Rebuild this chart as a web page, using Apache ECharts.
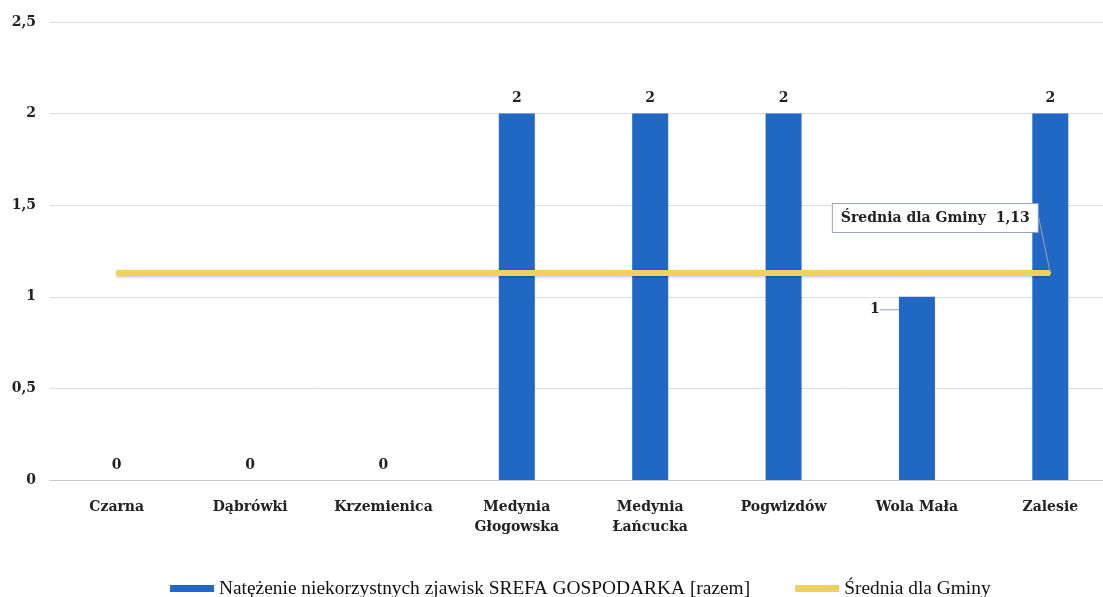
<!DOCTYPE html>
<html><head><meta charset="utf-8">
<script src="https://cdn.jsdelivr.net/npm/echarts@6/dist/echarts.min.js"></script>
<style>html,body{margin:0;padding:0;background:#fff}#c{width:1103px;height:597px}</style>
</head><body><div id="c"></div>
<script>
const categories = ['Czarna','Dąbrówki','Krzemienica','Medynia\nGłogowska','Medynia\nŁańcucka','Pogwizdów','Wola Mała','Zalesie'];
const barValues = [0,0,0,2,2,2,1,2];
const avgValues = [1.13,1.13,1.13,1.13,1.13,1.13,1.13,1.13];
const yTicks = [0,0.5,1,1.5,2,2.5];
const barName = 'Natężenie niekorzystnych zjawisk SREFA GOSPODARKA [razem]';
const avgName = 'Średnia dla Gminy';
const avgLabel = 'Średnia dla Gminy  1,13';

const serif = 'DejaVu Serif';
const yellow = '#f0d060';
const chart = echarts.init(document.getElementById('c'));
chart.setOption({
  animation:false,
  grid:{left:50, top:22, width:1067, bottom:117, outerBoundsMode:'none', containLabel:false},
  legend:{
    top:574, left:165, itemGap:45, itemWidth:44, itemHeight:7,
    textStyle:{fontFamily:'Liberation Serif', fontSize:19.4, color:'#111'},
    data:[{name:barName, icon:'rect'},{name:avgName, icon:'rect'}]
  },
  xAxis:{
    type:'category', data:categories,
    axisLine:{lineStyle:{color:'#c8c8c8'}}, axisTick:{show:false},
    axisLabel:{fontFamily:serif, fontWeight:'bold', fontSize:14, color:'#222', margin:17, lineHeight:20, interval:0}
  },
  yAxis:{
    type:'value', min:yTicks[0], max:yTicks[yTicks.length-1], interval:0.5,
    axisLine:{show:false}, axisTick:{show:false},
    splitLine:{lineStyle:{color:'#dcdcdc'}},
    axisLabel:{fontFamily:serif, fontWeight:'bold', fontSize:14, color:'#222', margin:14,
      formatter:v=>String(v).replace('.',',')}
  },
  series:[
    {
      name:barName, type:'bar', barWidth:36,
      data:barValues.map((v,i)=> i===6 ? {value:v, labelLine:{show:true, lineStyle:{color:'#8aa0c0', width:1}}} : v),
      itemStyle:{color:'#2167c4'},
      label:{show:true, position:'top', distance:8, fontFamily:serif, fontWeight:'bold', fontSize:14, color:'#222'},
      labelLayout:function(p){ if(p.dataIndex===6){ return {dx:-42, dy:28}; } return {}; },
      z:2
    },
    {
      name:avgName, type:'line', symbol:'circle', symbolSize:2, showSymbol:true,
      data:avgValues.map((v,i)=> i===avgValues.length-1 ? {value:v,
        label:{show:true, position:'top', formatter:avgLabel, fontFamily:serif, fontWeight:'bold', fontSize:14, color:'#222',
          backgroundColor:'#fff', borderColor:'#9aa4b0', borderWidth:1, padding:[7,8]},
        labelLine:{show:true, lineStyle:{color:'#9aa4b0', width:1}}} : v),
      lineStyle:{color:yellow, width:6, shadowColor:'rgba(0,0,0,0.25)', shadowBlur:3, shadowOffsetY:1},
      itemStyle:{color:yellow},
      labelLayout:function(p){ if(p.dataIndex===7){ return {dx:-115, dy:-35}; } return {}; },
      z:3
    }
  ]
});
</script></body></html>
